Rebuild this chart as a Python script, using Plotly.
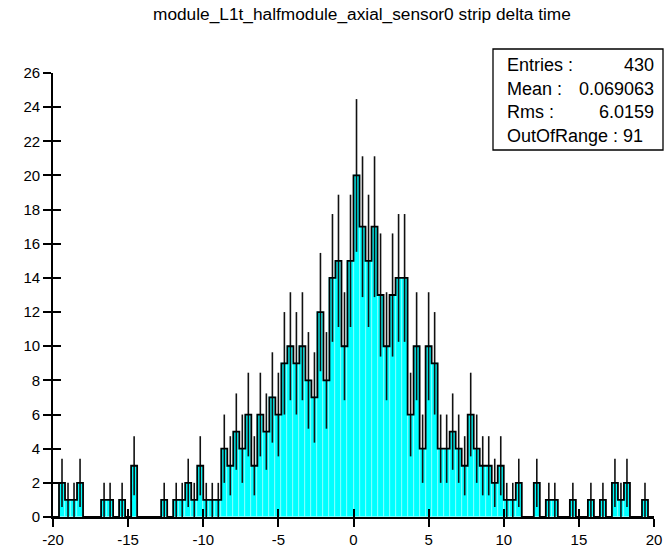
import numpy as np
import plotly.graph_objects as go

# ---- data ----
title_text = "module_L1t_halfmodule_axial_sensor0 strip delta time"
x_min, x_max, n_bins = -20.0, 20.0, 100
counts = [
    0, 2, 1, 1, 2, 0, 0, 0, 1, 1,
    0, 1, 0, 3, 0, 0, 0, 0, 1, 0,
    1, 1, 2, 1, 3, 1, 1, 1, 4, 3,
    5, 4, 6, 3, 6, 5, 7, 6, 9, 10,
    9, 10, 8, 7, 12, 8, 14, 15, 10, 15,
    20, 17, 15, 17, 13, 10, 13, 14, 14, 6,
    10, 4, 10, 9, 4, 4, 5, 4, 3, 6,
    4, 3, 3, 2, 3, 1, 1, 2, 0, 0,
    2, 0, 1, 1, 0, 0, 1, 0, 0, 1,
    0, 1, 0, 2, 1, 2, 0, 0, 1, 0,
]
stat_entries = "430"
stat_mean = "0.069063"
stat_rms = "6.0159"
stat_out_of_range = "91"
x_ticks = [-20, -15, -10, -5, 0, 5, 10, 15, 20]
y_ticks = list(range(0, 27, 2))

# ---- derived ----
counts = np.array(counts, dtype=float)
edges = np.linspace(x_min, x_max, n_bins + 1)
centers = 0.5 * (edges[:-1] + edges[1:])
bw = edges[1] - edges[0]
errs = np.sqrt(counts)

FONT = "Liberation Sans"
L, R, T, B = 53, 12, 73, 34
W, H = 666, 551
pw, ph = W - L - R, H - T - B

def px_x(px):
    return (px - L) / pw

def px_y(py):
    return (H - B - py) / ph

fig = go.Figure()
fig.add_trace(go.Bar(
    x=centers, y=counts, width=bw,
    marker=dict(color="#00ffff", line=dict(color="#a8ffff", width=0.6)),
    error_y=dict(type="data", array=errs, visible=True, width=0,
                 thickness=1.6, color="#111111"),
    hoverinfo="skip", showlegend=False,
))
step_x = np.concatenate([[edges[0]], edges[:-1], [edges[-1]], [edges[-1]]])
step_y = np.concatenate([[0], counts, [counts[-1]], [0]])
fig.add_trace(go.Scatter(
    x=step_x, y=step_y, mode="lines", line=dict(color="black", width=1.8, shape="hv"),
    hoverinfo="skip", showlegend=False,
))
# invisible trace for the overlay axes (inside half of the crossing ticks)
fig.add_trace(go.Scatter(x=[x_min], y=[0], xaxis="x2", yaxis="y2", mode="markers",
                         marker=dict(size=0.1, color="rgba(0,0,0,0)"),
                         hoverinfo="skip", showlegend=False))

axis_common = dict(showgrid=False, zeroline=False, showline=True, linecolor="black",
                   linewidth=1.6, ticks="outside", ticklen=8, tickwidth=1.6,
                   tickcolor="black", automargin=False,
                   tickfont=dict(family=FONT, size=15, color="black"))
fig.update_layout(
    width=W, height=H,
    margin=dict(l=L, r=R, t=T, b=B, pad=0, autoexpand=False),
    paper_bgcolor="white", plot_bgcolor="white",
    bargap=0,
    xaxis=dict(range=[x_min, x_max], tickvals=x_ticks, ticktext=[str(v) for v in x_ticks],
               **axis_common),
    yaxis=dict(range=[0, 26], tickvals=y_ticks, ticktext=[str(v) for v in y_ticks],
               **axis_common),
    xaxis2=dict(overlaying="x", matches="x", range=[x_min, x_max], tickvals=x_ticks,
                showticklabels=False, showgrid=False, zeroline=False, showline=False,
                ticks="inside", ticklen=8, tickwidth=1.6, tickcolor="black", side="bottom"),
    yaxis2=dict(overlaying="y", matches="y", range=[0, 26], tickvals=y_ticks,
                showticklabels=False, showgrid=False, zeroline=False, showline=False,
                ticks="inside", ticklen=8, tickwidth=1.6, tickcolor="black", side="left"),
)

# title
fig.add_annotation(text=title_text, xref="paper", yref="paper", x=px_x(362), y=px_y(14),
                   xanchor="center", yanchor="middle", showarrow=False,
                   font=dict(family=FONT, size=17.3, color="black"))

# statistics box
box_l, box_r, box_t, box_b = 493, 663, 49, 150
fig.add_shape(type="rect", xref="paper", yref="paper",
              x0=px_x(box_l), x1=px_x(box_r), y0=px_y(box_b), y1=px_y(box_t),
              line=dict(color="black", width=1.3), fillcolor="white", layer="above")
stat_font = dict(family=FONT, size=18, color="black")
rows = [("Entries :", stat_entries), ("Mean :", stat_mean),
        ("Rms :", stat_rms), ("OutOfRange : " + stat_out_of_range, None)]
for i, (left, right) in enumerate(rows):
    yy = px_y(65 + 23.7 * i)
    fig.add_annotation(text=left, xref="paper", yref="paper", x=px_x(505), y=yy,
                       xanchor="left", yanchor="middle", showarrow=False, font=stat_font)
    if right is not None:
        fig.add_annotation(text=right, xref="paper", yref="paper", x=px_x(656), y=yy,
                           xanchor="right", yanchor="middle", showarrow=False, font=stat_font)

fig.write_html("out.html", config={"displayModeBar": False},
               post_script="document.body.style.margin='0';document.body.style.padding='0';")
